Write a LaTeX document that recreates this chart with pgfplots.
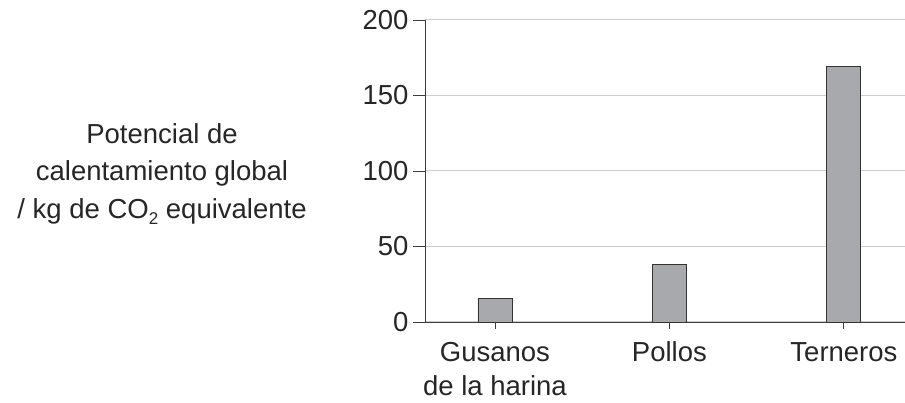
\documentclass[border=0pt]{standalone}
\usepackage{pgfplots}
\pgfplotsset{compat=1.18}
\usepackage{fontspec}
\setmainfont{Liberation Sans}
\definecolor{barfill}{RGB}{167,169,172}
\definecolor{gridc}{RGB}{205,205,205}
\definecolor{axc}{RGB}{60,60,60}
\begin{document}
\begin{tikzpicture}
\path[use as bounding box] (-425pt,-81pt) rectangle (480pt,322pt);
\begin{axis}[
  scale only axis,
  width=480pt, height=302pt,
  xmin=-0.401, xmax=2.35,
  ymin=0, ymax=200,
  axis x line*=bottom, axis y line*=left,
  axis line style={draw=axc, line width=0.9pt},
  xtick={0,1,2},
  xticklabels={{\strut Gusanos\\de la harina},\strut Pollos,\strut Terneros},
  ytick={0,50,100,150,200},
  tick align=outside,
  major tick length=12pt,
  xtick style={draw=axc, line width=0.9pt, /pgfplots/major tick length=7pt},
  ytick style={draw=axc, line width=0.9pt},
  ymajorgrids,
  grid style={draw=gridc, line width=1pt},
  every tick label/.append style={font=\fontsize{27.5}{33.5}\selectfont, text=black!85},
  x tick label style={align=center, anchor=north, inner sep=0pt, yshift=-4pt},
  y tick label style={xshift=-1pt},
  /pgf/number format/assume math mode=true,
  clip=false,
]
\addplot[ybar, bar width=34pt, fill=barfill, draw=black!80, line width=0.9pt]
  coordinates {(0,15.5) (1,38) (2,169)};
\end{axis}
\node[align=center, font=\fontsize{27.5}{37.5}\selectfont, text=black!85] at (-263pt,148pt)
  {Potencial de\\calentamiento global\\/ kg de CO\raisebox{-6pt}{\fontsize{17}{17}\selectfont 2} equivalente};
\end{tikzpicture}
\end{document}
